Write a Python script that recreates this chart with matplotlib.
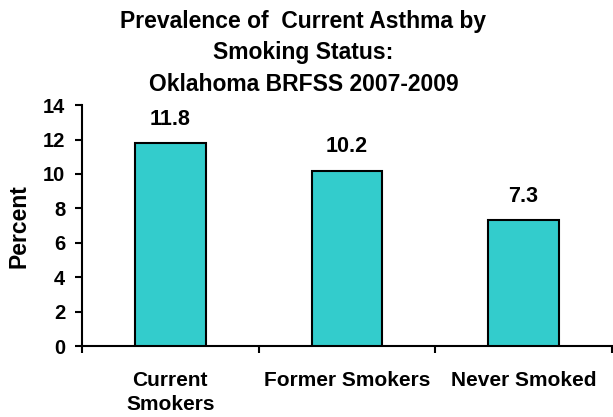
import matplotlib
matplotlib.use("Agg")
import matplotlib.pyplot as plt
import numpy as np

# data
categories = ["Current\nSmokers", "Former Smokers", "Never Smoked"]
prevalence = [11.8, 10.2, 7.3]
y_ticks = [0, 2, 4, 6, 8, 10, 12, 14]

plt.rcParams['font.family'] = ['Liberation Sans', 'DejaVu Sans']
plt.rcParams['font.weight'] = 'bold'

fig = plt.figure(figsize=(6.13, 4.17), dpi=100)
ax = fig.add_axes([0.1338, 0.170, 0.864, 0.578])

x = np.arange(len(categories)) + 0.5
bars = ax.bar(x, prevalence, width=0.40, color="#33CCCC", edgecolor="black", linewidth=1.5, zorder=3)

# value labels above the bars
for xi, v in zip(x, prevalence):
    ax.annotate(f"{v:.1f}", (xi, v), xytext=(0, 9.5), textcoords="offset points",
                ha="center", va="bottom", fontsize=15.5, fontweight="bold")

ax.set_xlim(0, 3)
ax.set_ylim(0, 14)
ax.set_yticks(y_ticks)
ax.tick_params(axis="y", labelsize=14.5, length=5, width=1.5, direction="out", pad=7)

# ticks at category boundaries, labels at centers
ax.set_xticks([0, 1, 2, 3])
ax.set_xticklabels([])
ax.set_xticks(x, minor=True)
ax.set_xticklabels(categories, minor=True, fontsize=15, fontweight="bold", linespacing=1.3)
ax.tick_params(axis="x", which="major", length=5, width=1.5, direction="out")
ax.tick_params(axis="x", which="minor", length=0, pad=18)

for s in ["top", "right"]:
    ax.spines[s].set_visible(False)
for s in ["left", "bottom"]:
    ax.spines[s].set_linewidth(1.5)

ax.set_ylabel("Percent", fontsize=16.5, fontweight="bold", labelpad=9)

fig.text(0.495, 0.873, "Prevalence of  Current Asthma by\nSmoking Status:\nOklahoma BRFSS 2007-2009",
         ha="center", va="center", fontsize=16.5, fontweight="bold", linespacing=1.48)

fig.savefig("out.png", dpi=100)
